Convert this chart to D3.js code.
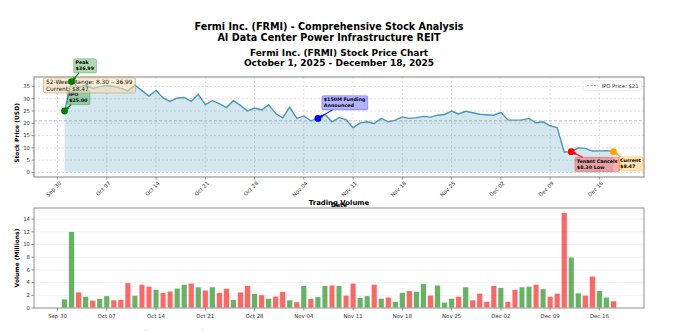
<!DOCTYPE html>
<html lang="en">
<head>
<meta charset="utf-8">
<title>FRMI</title>
<style>
  body { margin: 0; background: #fff; }
  svg { font-family: "DejaVu Sans", sans-serif; }
</style>
</head>
<body>
<svg id="chart" width="678" height="331"></svg>
<script src="https://cdnjs.cloudflare.com/ajax/libs/d3/7.8.5/d3.min.js"></script>
<script>
// ---- data ----
const firstDay = Date.UTC(2025, 9, 1)
const lastDay = Date.UTC(2025, 11, 18)

const prices = [
  25.00, 36.99, 34.6, 35.6, 34.2, 34.9, 35.4, 35.0, 34.3, 33.2,
  35.5, 33.3, 31.1, 33.4, 30.3, 28.9, 30.3, 30.5, 28.9, 31.8,
  27.6, 29.2, 28.0, 26.4, 29.2, 27.3, 25.0, 26.2, 25.4, 27.6,
  24.0, 22.2, 26.6, 22.0, 23.0, 21.0, 22.0, 23.6, 20.6, 22.3,
  21.5, 18.2, 20.2, 20.6, 19.9, 22.0, 20.6, 21.3, 22.6, 22.0,
  22.3, 22.8, 22.5, 23.3, 23.6, 25.0, 23.8, 24.9, 24.3, 23.7,
  23.5, 23.3, 24.5, 21.4, 21.3, 21.4, 22.0, 20.2, 20.6, 19.0,
  18.3, 8.30, 8.45, 10.0, 9.8, 8.7, 8.8, 8.9, 8.47
]

const volumes = [
  1.4, 12.0, 2.5, 1.8, 1.2, 1.45, 1.9, 1.25, 1.3, 3.95,
  1.95, 3.7, 3.4, 2.9, 2.4, 2.65, 3.1, 3.7, 3.9, 3.3,
  2.8, 3.3, 2.4, 3.05, 1.3, 2.5, 3.5, 2.25, 2.05, 1.5,
  1.85, 2.55, 1.25, 0.95, 3.5, 1.45, 1.75, 3.5, 3.6, 3.5,
  2.0, 3.9, 1.6, 1.9, 3.7, 1.5, 1.7, 1.0, 2.4, 2.7,
  2.6, 3.8, 2.0, 3.6, 0.9, 1.5, 1.8, 3.3, 1.25, 2.3,
  1.0, 3.5, 3.2, 1.0, 2.9, 3.3, 3.4, 3.7, 3.0, 1.8,
  2.3, 15.0, 8.0, 2.35, 2.0, 5.0, 2.7, 1.7, 1.1
]

const priceTicks = [0, 5, 10, 15, 20, 25, 30, 35]
const volumeTicks = [0, 2, 4, 6, 8, 10, 12, 14]
const ipoPrice = 21

const eventDates = ['2025-10-01', '2025-10-02', '2025-11-06', '2025-12-12', '2025-12-18']
const eventLabels = [['IPO', '$25.00'], ['Peak', '$36.99'], ['$150M Funding', 'Announced'],
  ['Tenant Cancels', '$8.30 Low'], ['Current', '$8.47']]
const rangeText = ['52-Week Range: 8.30 \u2013 36.99', 'Current: $8.47']

// ---- layout / style ----
const eventColors = ['green', 'green', 'blue', 'red', 'orange']
const eventOffsets = [[2.5, -20.5], [2, -22.8], [4, -22.7], [3.7, 5.6], [4.7, 5]]

const P = { x0: 34, x1: 644, y0: 77, y1: 177 }
const V = { x0: 34, x1: 644, y0: 208, y1: 308 }
const lineColor = '#2E86AB'
const tickFont = 5.4

const svg = d3.select('#chart')
svg.append('rect').attr('width', 678).attr('height', 331).attr('fill', '#fff')

const days = d3.utcDay.range(new Date(firstDay), d3.utcDay.offset(new Date(lastDay), 1))
const data = days.map((d, i) => ({
  date: d, price: prices[i], volume: volumes[i],
  up: i === 0 || prices[i] >= prices[i - 1]
}))

// shared x scale (bar extents + 5% margin, like matplotlib)
const halfBar = 0.4 * 864e5
const lo = +days[0] - halfBar, hi = +days[days.length - 1] + halfBar
const pad = (hi - lo) * 0.05
const x = d3.scaleUtc().domain([new Date(lo - pad), new Date(hi + pad)]).range([P.x0, P.x1])
const xTicks = d3.utcTuesday.range(x.domain()[0], x.domain()[1])
const fmt = d3.utcFormat('%b %d')

const pMax = d3.max(prices)
const py = d3.scaleLinear().domain([-pMax * 0.05, pMax * 1.05]).range([P.y1, P.y0])
const vMax = d3.max(volumes)
const vy = d3.scaleLinear().domain([0, vMax * 1.05]).range([V.y1, V.y0])

// ---- titles ----
svg.append('text').attr('x', 329).attr('y', 29.5).attr('text-anchor', 'middle')
  .attr('font-size', 9.6).attr('font-weight', 'bold')
  .text('Fermi Inc. (FRMI) - Comprehensive Stock Analysis')
svg.append('text').attr('x', 329).attr('y', 41).attr('text-anchor', 'middle')
  .attr('font-size', 9.6).attr('font-weight', 'bold')
  .text('AI Data Center Power Infrastructure REIT')
svg.append('text').attr('x', (P.x0 + P.x1) / 2).attr('y', 55.5).attr('text-anchor', 'middle')
  .attr('font-size', 9).attr('font-weight', 'bold')
  .text('Fermi Inc. (FRMI) Stock Price Chart')
svg.append('text').attr('x', (P.x0 + P.x1) / 2).attr('y', 65.5).attr('text-anchor', 'middle')
  .attr('font-size', 9).attr('font-weight', 'bold')
  .text('October 1, 2025 - December 18, 2025')

// ---- price panel ----
const gp = svg.append('g')
gp.append('defs').append('clipPath').attr('id', 'clipP')
  .append('rect').attr('x', P.x0).attr('y', P.y0).attr('width', P.x1 - P.x0).attr('height', P.y1 - P.y0)

// grid
gp.selectAll('.vg').data(xTicks).join('line')
  .attr('x1', d => x(d)).attr('x2', d => x(d)).attr('y1', P.y0).attr('y2', P.y1)
  .attr('stroke', '#c8c8c8').attr('stroke-width', 0.6).attr('stroke-dasharray', '2,2')
gp.selectAll('.hg').data(priceTicks).join('line')
  .attr('x1', P.x0).attr('x2', P.x1).attr('y1', d => py(d)).attr('y2', d => py(d))
  .attr('stroke', '#c8c8c8').attr('stroke-width', 0.6).attr('stroke-dasharray', '2,2')

const plot = gp.append('g').attr('clip-path', 'url(#clipP)')
plot.append('path').datum(data)
  .attr('d', d3.area().x(d => x(d.date)).y0(py(0)).y1(d => py(d.price)))
  .attr('fill', lineColor).attr('fill-opacity', 0.2)
plot.append('path').datum(data)
  .attr('d', d3.line().x(d => x(d.date)).y(d => py(d.price)))
  .attr('fill', 'none').attr('stroke', lineColor).attr('stroke-width', 1.4).attr('stroke-opacity', 0.85)
plot.append('line').attr('x1', P.x0).attr('x2', P.x1).attr('y1', py(ipoPrice)).attr('y2', py(ipoPrice))
  .attr('stroke', '#888').attr('stroke-width', 0.8).attr('stroke-dasharray', '3,2').attr('opacity', 0.7)

// event annotation boxes
const events = eventDates.map((s, i) => {
  const date = new Date(s + 'T00:00:00Z')
  const d = data.find(e => +e.date === +date)
  return { date, price: d.price, label: eventLabels[i], color: eventColors[i], off: eventOffsets[i] }
})

const boxes = svg.append('g')
const arrows = svg.append('g')
events.forEach(ev => {
  const mx = x(ev.date), my = py(ev.price)
  const bx = mx + ev.off[0], by = my + ev.off[1]
  const g = boxes.append('g').attr('transform', `translate(${bx},${by})`)
  const t = g.append('text').attr('font-size', 4.8).attr('font-weight', 'bold').attr('fill', '#000')
  ev.label.forEach((l, i) => t.append('tspan').attr('x', 1.9).attr('y', 1.9 + 3.8 + i * 5.8).text(l))
  const bb = t.node().getBBox()
  const w = bb.width + 3.8, h = bb.height + 3.4
  g.insert('rect', 'text').attr('width', w).attr('height', h).attr('rx', 1.5)
    .attr('fill', ev.color).attr('fill-opacity', 0.3)
    .attr('stroke', ev.color).attr('stroke-opacity', 0.45).attr('stroke-width', 0.6)
  // arrow from box edge toward the point
  const cx = bx + w / 2, cy = by + h / 2
  const dx = mx - cx, dy = my - cy
  const tEdge = Math.min(Math.abs((w / 2) / (dx || 1e-6)), Math.abs((h / 2) / (dy || 1e-6)))
  const sx = cx + dx * tEdge, sy = cy + dy * tEdge
  arrows.append('line').attr('x1', sx).attr('y1', sy).attr('x2', mx).attr('y2', my)
    .attr('stroke', ev.color).attr('stroke-width', 1.1)
  const ang = Math.atan2(my - sy, mx - sx)
  const hx = mx - Math.cos(ang) * 2, hy = my - Math.sin(ang) * 2
  arrows.append('path')
    .attr('d', `M${mx},${my} L${hx - Math.cos(ang) * 3 + Math.sin(ang) * 1.6},${hy - Math.sin(ang) * 3 - Math.cos(ang) * 1.6} L${hx - Math.cos(ang) * 3 - Math.sin(ang) * 1.6},${hy - Math.sin(ang) * 3 + Math.cos(ang) * 1.6}Z`)
    .attr('fill', ev.color)
})

// 52-week range box (on top of the annotation boxes)
const rg = svg.append('g')
const rt = rg.append('text').attr('font-size', 5.9).attr('fill', '#222')
rangeText.forEach((l, i) => rt.append('tspan').attr('x', P.x0 + 12).attr('y', 84.4 + i * 6.4).text(l))
const rbb = rt.node().getBBox()
rg.insert('rect', 'text').attr('x', rbb.x - 2.6).attr('y', P.y0 + 0.6)
  .attr('width', rbb.width + 5.2).attr('height', 93 - P.y0 - 0.6).attr('rx', 2)
  .attr('fill', 'wheat').attr('fill-opacity', 0.6)
  .attr('stroke', '#b9a98a').attr('stroke-width', 0.7)
svg.node().appendChild(arrows.node())

// markers
svg.append('g').selectAll('circle').data(events).join('circle')
  .attr('cx', d => x(d.date)).attr('cy', d => py(d.price)).attr('r', 3.4)
  .attr('fill', d => d.color)

// legend
const lg = svg.append('g')
lg.append('rect').attr('x', 583).attr('y', 80.8).attr('width', 58.5).attr('height', 9.6).attr('rx', 1.5)
  .attr('fill', '#fff').attr('fill-opacity', 0.8).attr('stroke', '#ddd').attr('stroke-width', 0.6)
lg.append('line').attr('x1', 587).attr('x2', 598).attr('y1', 85.6).attr('y2', 85.6)
  .attr('stroke', '#999').attr('stroke-width', 0.8).attr('stroke-dasharray', '2,1.5')
lg.append('text').attr('x', 601.5).attr('y', 87.6).attr('font-size', 5.3).attr('fill', '#333')
  .text('IPO Price: $' + ipoPrice)

// frame + axes
gp.append('rect').attr('x', P.x0).attr('y', P.y0).attr('width', P.x1 - P.x0).attr('height', P.y1 - P.y0)
  .attr('fill', 'none').attr('stroke', '#8c8c8c').attr('stroke-width', 1.1)
const pxAxis = svg.append('g')
pxAxis.selectAll('line').data(xTicks).join('line')
  .attr('x1', d => x(d)).attr('x2', d => x(d)).attr('y1', P.y1).attr('y2', P.y1 + 2.5)
  .attr('stroke', '#555').attr('stroke-width', 0.6)
pxAxis.selectAll('text').data(xTicks).join('text')
  .attr('transform', d => `translate(${x(d) + 1.5},${P.y1 + 4}) rotate(-45)`)
  .attr('text-anchor', 'end').attr('dy', '0.7em').attr('font-size', tickFont).attr('fill', '#333')
  .text(d => fmt(d))
const pyAxis = svg.append('g')
pyAxis.selectAll('line').data(priceTicks).join('line')
  .attr('x1', P.x0 - 2.5).attr('x2', P.x0).attr('y1', d => py(d)).attr('y2', d => py(d))
  .attr('stroke', '#555').attr('stroke-width', 0.6)
pyAxis.selectAll('text').data(priceTicks).join('text')
  .attr('x', P.x0 - 4).attr('y', d => py(d)).attr('dy', '0.35em')
  .attr('text-anchor', 'end').attr('font-size', tickFont).attr('fill', '#333')
  .text(d => d)
svg.append('text').attr('transform', `translate(19,${(P.y0 + P.y1) / 2 + 6}) rotate(-90)`)
  .attr('text-anchor', 'middle').attr('font-size', 6).attr('font-weight', 'bold')
  .text('Stock Price (USD)')
svg.append('text').attr('x', (P.x0 + P.x1) / 2).attr('y', 206.5).attr('text-anchor', 'middle')
  .attr('font-size', 6).attr('font-weight', 'bold').text('Date')

// ---- volume panel ----
const gv = svg.append('g')
gv.selectAll('.hg').data(volumeTicks.slice(1)).join('line')
  .attr('x1', V.x0).attr('x2', V.x1).attr('y1', d => vy(d)).attr('y2', d => vy(d))
  .attr('stroke', '#ebebeb').attr('stroke-width', 0.7)
const barW = x(new Date(+days[0] + 2 * halfBar)) - x(days[0])
gv.selectAll('rect.bar').data(data).join('rect').attr('class', 'bar')
  .attr('x', d => x(new Date(+d.date - halfBar))).attr('width', barW)
  .attr('y', d => vy(d.volume)).attr('height', d => vy(0) - vy(d.volume))
  .attr('fill', d => d.up ? 'green' : 'red').attr('fill-opacity', 0.6)
  .attr('stroke', '#fff').attr('stroke-width', 0.4)
gv.append('rect').attr('x', V.x0).attr('y', V.y0).attr('width', V.x1 - V.x0).attr('height', V.y1 - V.y0)
  .attr('fill', 'none').attr('stroke', '#9a9a9a').attr('stroke-width', 1.1)
gv.selectAll('.xt').data(xTicks).join('line')
  .attr('x1', d => x(d)).attr('x2', d => x(d)).attr('y1', V.y1).attr('y2', V.y1 + 2.5)
  .attr('stroke', '#555').attr('stroke-width', 0.6)
gv.selectAll('.xl').data(xTicks).join('text')
  .attr('x', d => x(d)).attr('y', 317.5).attr('text-anchor', 'middle')
  .attr('font-size', tickFont).attr('fill', '#333').text(d => fmt(d))
gv.selectAll('.yt').data(volumeTicks).join('line')
  .attr('x1', V.x0 - 2.5).attr('x2', V.x0).attr('y1', d => vy(d)).attr('y2', d => vy(d))
  .attr('stroke', '#555').attr('stroke-width', 0.6)
gv.selectAll('.yl').data(volumeTicks).join('text')
  .attr('x', V.x0 - 4).attr('y', d => vy(d)).attr('dy', '0.35em').attr('text-anchor', 'end')
  .attr('font-size', tickFont).attr('fill', '#333').text(d => d)
svg.append('text').attr('transform', `translate(19,${(V.y0 + V.y1) / 2}) rotate(-90)`)
  .attr('text-anchor', 'middle').attr('font-size', 6).attr('font-weight', 'bold')
  .text('Volume (Millions)')
svg.append('text').attr('x', (V.x0 + V.x1) / 2).attr('y', 205).attr('text-anchor', 'middle')
  .attr('font-size', 6.9).attr('font-weight', 'bold').text('Trading Volume')

// next panel title, cut off by the bottom edge
svg.append('text').attr('x', 130).attr('y', 335.5).attr('font-size', 7).attr('font-weight', 'bold')
  .text('Performance Metrics')
</script>
</body>
</html>
